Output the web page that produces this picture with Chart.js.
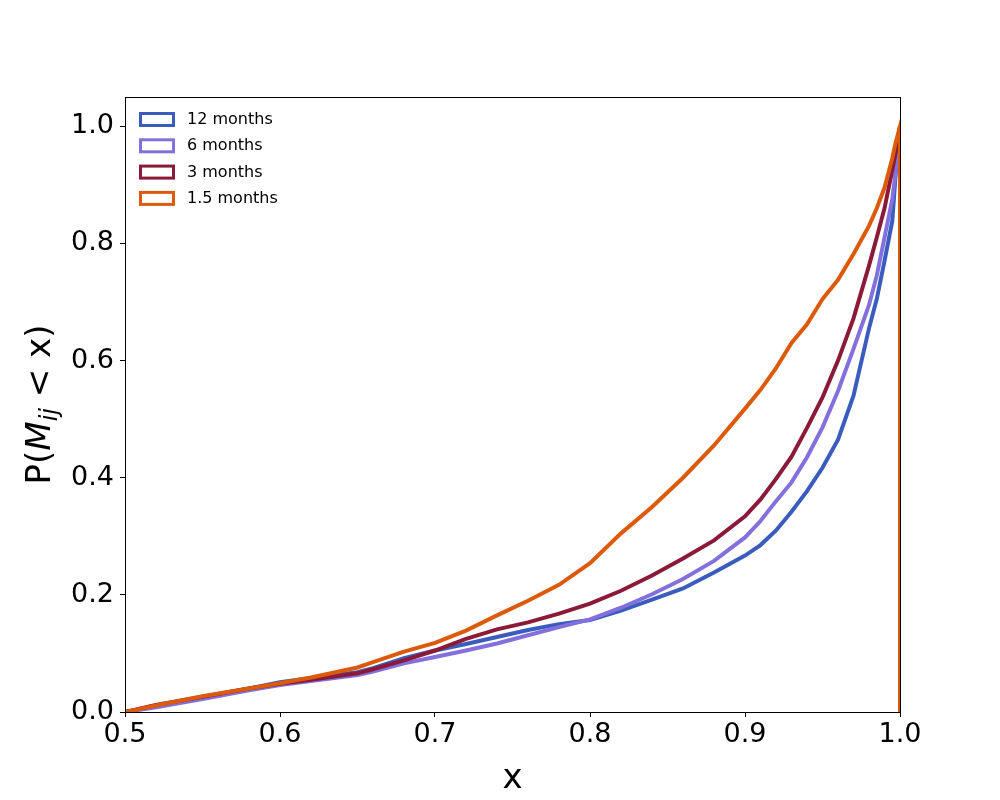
<!DOCTYPE html>
<html>
<head>
<meta charset="utf-8">
<script src="https://cdn.jsdelivr.net/npm/chart.js@4/dist/chart.umd.min.js"></script>
<style>
  html, body { margin: 0; padding: 0; background: #fff; }
  #wrap { width: 1000px; height: 800px; }
</style>
</head>
<body>
<div id="wrap"><canvas id="myChart" width="1000" height="800"></canvas></div>
<script>
var xs = [0.5, 0.52, 0.55, 0.58, 0.6, 0.62, 0.65, 0.66, 0.68, 0.7, 0.72, 0.74, 0.76, 0.78, 0.8,
          0.82, 0.84, 0.86, 0.88, 0.9, 0.91, 0.92, 0.93, 0.94, 0.95, 0.96, 0.97, 0.98, 0.985,
          0.99, 0.995, 0.997, 1.0, 1.0];

var months12 = [0, 0.010, 0.025, 0.040, 0.051, 0.058, 0.068, 0.075, 0.092, 0.105, 0.116, 0.128, 0.140, 0.150, 0.157,
                0.173, 0.192, 0.211, 0.238, 0.267, 0.285, 0.310, 0.342, 0.377, 0.417, 0.465, 0.540, 0.655, 0.705,
                0.770, 0.838, 0.911, 1.0, 0];
var months6  = [0, 0.008, 0.022, 0.037, 0.046, 0.053, 0.063, 0.069, 0.083, 0.094, 0.105, 0.117, 0.131, 0.145, 0.158,
                0.178, 0.201, 0.227, 0.258, 0.298, 0.326, 0.360, 0.392, 0.435, 0.486, 0.548, 0.620, 0.695, 0.745,
                0.810, 0.875, 0.918, 1.0, 0];
var months3  = [0, 0.012, 0.026, 0.040, 0.048, 0.055, 0.066, 0.073, 0.088, 0.105, 0.125, 0.141, 0.153, 0.168, 0.185,
                0.207, 0.233, 0.262, 0.293, 0.334, 0.363, 0.398, 0.436, 0.485, 0.537, 0.600, 0.672, 0.762, 0.810,
                0.860, 0.925, 0.952, 1.0, 0];
var months15 = [0, 0.011, 0.027, 0.040, 0.049, 0.059, 0.076, 0.085, 0.103, 0.118, 0.139, 0.165, 0.190, 0.217, 0.254,
                0.305, 0.350, 0.400, 0.455, 0.518, 0.550, 0.587, 0.630, 0.662, 0.705, 0.738, 0.782, 0.830, 0.860,
                0.895, 0.945, 0.970, 1.0, 0];

var seriesNames = ['12 months', '6 months', '3 months', '1.5 months'];
var seriesColors = ['#3a5cbc', '#8470dd', '#8b1a38', '#dc5a0c'];
var yTicks = [0, 0.2, 0.4, 0.6, 0.8, 1.0];
var xTicks = [0.5, 0.6, 0.7, 0.8, 0.9, 1.0];

function toPoints(ys) {
    return ys.map(function (y, i) { return { x: xs[i], y: y }; });
}

var FONT = "'DejaVu Sans', sans-serif";

// box around the plot, legend in the top left, y label with subscript
var extras = {
    id: 'extras',
    afterDraw: function (chart) {
        var ctx = chart.ctx, a = chart.chartArea;
        ctx.save();
        ctx.strokeStyle = '#000';
        ctx.lineWidth = 1;
        ctx.strokeRect(a.left + 0.5, a.top + 0.5, a.right - a.left, a.bottom - a.top);

        // legend
        ctx.font = '16px ' + FONT;
        ctx.textBaseline = 'middle';
        for (var i = 0; i < seriesNames.length; i++) {
            var cy = a.top + 22 + i * 26.3;
            ctx.fillStyle = '#fff';
            ctx.fillRect(a.left + 15, cy - 6, 34, 13);
            ctx.strokeStyle = seriesColors[i];
            ctx.lineWidth = 3;
            ctx.strokeRect(a.left + 15.5, cy - 5.5, 33, 12);
            ctx.fillStyle = '#000';
            ctx.fillText(seriesNames[i], a.left + 62, cy + 1);
        }

        // y axis title: P(M_ij < x)
        var parts = [
            { t: 'P(', f: '34px ' + FONT, dy: 0 },
            { t: 'M', f: 'italic 34px ' + FONT, dy: 0 },
            { t: 'ij', f: 'italic 24px ' + FONT, dy: 7 },
            { t: ' < x)', f: '34px ' + FONT, dy: 0 }
        ];
        var total = 0;
        parts.forEach(function (p) { ctx.font = p.f; p.w = ctx.measureText(p.t).width; total += p.w; });
        ctx.translate(38, (a.top + a.bottom) / 2);
        ctx.rotate(-Math.PI / 2);
        ctx.fillStyle = '#000';
        ctx.textBaseline = 'alphabetic';
        ctx.textAlign = 'left';
        var px = -total / 2;
        parts.forEach(function (p) {
            ctx.font = p.f;
            ctx.fillText(p.t, px, 12 + p.dy);
            px += p.w;
        });
        ctx.restore();
    }
};

window.onload = function () {
    var ctx = document.getElementById('myChart').getContext('2d');

    const myChart = new Chart(ctx, {
        type: 'line',
        data: {
            datasets: [months12, months6, months3, months15].map(function (ys, i) {
                return {
                    label: seriesNames[i],
                    data: toPoints(ys),
                    borderColor: seriesColors[i],
                    backgroundColor: seriesColors[i],
                    borderWidth: 4,
                    pointRadius: 0,
                    tension: 0,
                    fill: false,
                    order: 3 - i   // 1.5 months drawn on top
                };
            })
        },
        options: {
            responsive: false,
            animation: false,
            layout: { padding: { top: 97, right: 100, left: 0, bottom: 0 } },
            plugins: {
                legend: { display: false },
                tooltip: { enabled: false }
            },
            scales: {
                x: {
                    type: 'linear',
                    min: 0.5,
                    max: 1.0,
                    afterBuildTicks: function (s) { s.ticks = xTicks.map(function (v) { return { value: v }; }); },
                    afterFit: function (s) { s.height = 88; },
                    ticks: {
                        color: '#000',
                        font: { family: FONT, size: 27 },
                        padding: 2,
                        maxRotation: 0,
                        callback: function (v) { return Number(v).toFixed(1); }
                    },
                    grid: { drawOnChartArea: false, drawTicks: true, tickLength: 5, color: '#000' },
                    border: { display: false },
                    title: {
                        display: true,
                        text: 'x',
                        color: '#000',
                        font: { family: FONT, size: 34 },
                        padding: { top: 0, bottom: 0 }
                    }
                },
                y: {
                    type: 'linear',
                    min: 0,
                    max: 1.05,
                    afterBuildTicks: function (s) { s.ticks = yTicks.map(function (v) { return { value: v }; }); },
                    afterFit: function (s) { s.width = 125; },
                    ticks: {
                        color: '#000',
                        font: { family: FONT, size: 27 },
                        padding: 6,
                        callback: function (v) { return Number(v).toFixed(1); }
                    },
                    grid: { drawOnChartArea: false, drawTicks: true, tickLength: 5, color: '#000' },
                    border: { display: false }
                }
            }
        },
        plugins: [extras]
    });
};
</script>
</body>
</html>
